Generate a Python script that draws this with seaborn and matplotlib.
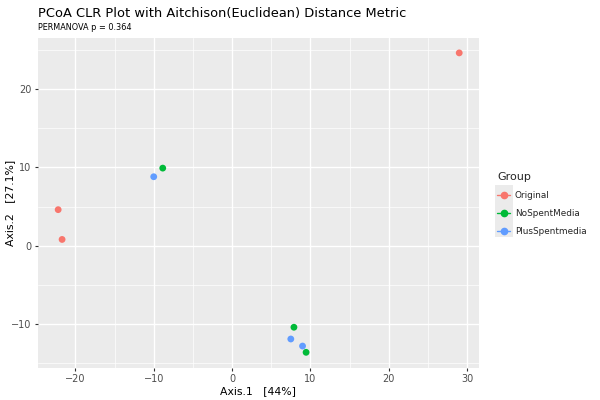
import numpy as np
import pandas as pd
import matplotlib
matplotlib.use("Agg")
import matplotlib.pyplot as plt
from matplotlib.lines import Line2D
from matplotlib.patches import Rectangle
from matplotlib.ticker import MultipleLocator
import seaborn as sns

# PCoA coordinates
groups = ["Original", "Original", "Original",
          "NoSpentMedia", "NoSpentMedia", "NoSpentMedia",
          "PlusSpentmedia", "PlusSpentmedia", "PlusSpentmedia"]
axis1 = [29.0, -22.2, -21.7, -8.85, 7.9, 9.45, -10.0, 7.5, 9.0]
axis2 = [24.6, 4.6, 0.8, 9.9, -10.4, -13.6, 8.8, -11.9, -12.8]

group_order = ["Original", "NoSpentMedia", "PlusSpentmedia"]
group_colors = ["#F8766D", "#00BA38", "#619CFF"]

df = pd.DataFrame({"Axis.1": axis1, "Axis.2": axis2, "Group": groups})

sns.set_theme(style="darkgrid", rc={
    "axes.facecolor": "#EBEBEB",
    "grid.color": "white",
    "axes.edgecolor": "#EBEBEB",
})
plt.rcParams["font.family"] = ["DejaVu Sans"]

fig = plt.figure(figsize=(6, 4), dpi=100)
ax = fig.add_axes([0.063, 0.08, 0.735, 0.825])

sns.scatterplot(data=df, x="Axis.1", y="Axis.2", hue="Group",
                hue_order=group_order, palette=group_colors,
                s=24, edgecolor="none", legend=False, ax=ax, zorder=3)

ax.set_xlim(-24.8, 31.5)
ax.set_ylim(-15.6, 26.5)
ax.xaxis.set_major_locator(MultipleLocator(10))
ax.yaxis.set_major_locator(MultipleLocator(10))
ax.xaxis.set_minor_locator(MultipleLocator(10, offset=5))
ax.yaxis.set_minor_locator(MultipleLocator(10, offset=5))
ax.grid(which="major", color="white", linewidth=1.0)
ax.grid(which="minor", color="white", linewidth=0.5)
ax.set_axisbelow(True)
for s in ax.spines.values():
    s.set_visible(False)

ax.tick_params(which="major", length=2.5, width=0.8, color="#333333",
               labelsize=7, labelcolor="#4D4D4D", pad=2, bottom=True, left=True)
ax.tick_params(which="minor", length=0, bottom=False, left=False)

ax.set_xlabel("Axis.1   [44%]", fontsize=7.8, color="black", labelpad=1)
ax.set_ylabel("Axis.2   [27.1%]", fontsize=7.8, color="black")
ax.yaxis.set_label_coords(-0.052, 0.5)

fig.text(0.063, 0.958, "PCoA CLR Plot with Aitchison(Euclidean) Distance Metric",
         fontsize=9.4, color="black", va="baseline")
fig.text(0.063, 0.925, "PERMANOVA p = 0.364", fontsize=5.9, color="black",
         va="baseline")

# legend with ggplot-like grey key boxes
fig.patches.append(Rectangle((0.825, 0.408), 0.03, 0.13,
                             transform=fig.transFigure, facecolor="#EBEBEB",
                             edgecolor="none", zorder=0))
handles = [Line2D([0], [0], color=c, marker="o", markersize=4.5, linewidth=1.0)
           for c in group_colors]
leg = fig.legend(handles, group_order, title="Group", loc="center left",
                 bbox_to_anchor=(0.815, 0.49), frameon=False, fontsize=6.4,
                 title_fontsize=8, handlelength=1.5, handletextpad=0.5,
                 labelspacing=1.0)
leg._legend_box.align = "left"

fig.savefig("out.png", dpi=100)
